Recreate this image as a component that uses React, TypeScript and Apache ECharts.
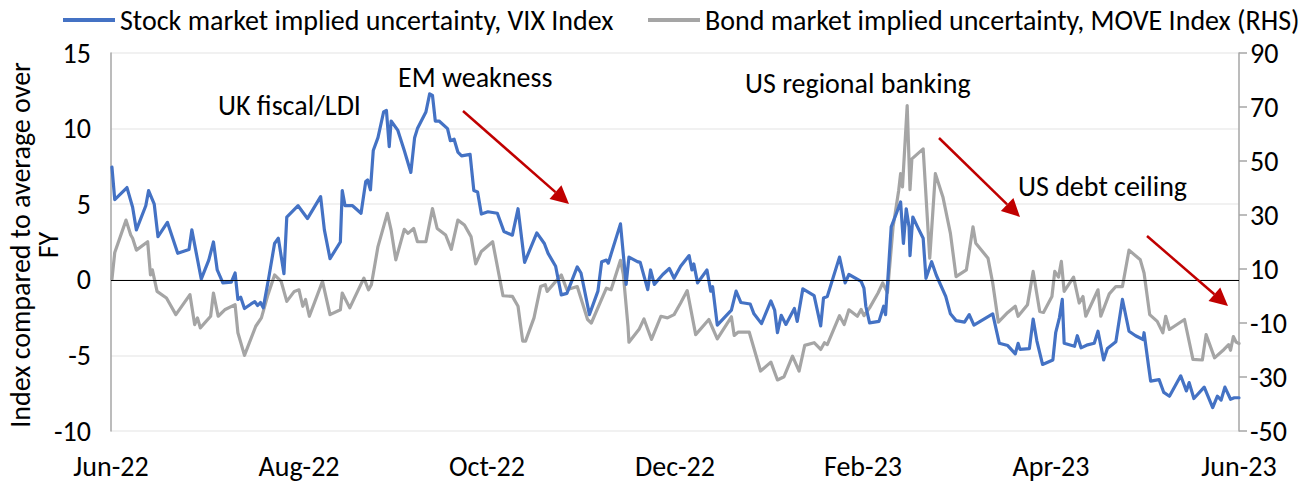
import React, { useEffect, useRef } from "react";
import * as echarts from "echarts";

const monthTicks = ["Jun-22", "Aug-22", "Oct-22", "Dec-22", "Feb-23", "Apr-23", "Jun-23"];

const vixName = "Stock market implied uncertainty, VIX Index";
const moveName = "Bond market implied uncertainty, MOVE Index (RHS)";

// time in months since start of Jun-22
const vixT = [0.01,0.04,0.17,0.23,0.27,0.37,0.40,0.46,0.50,0.60,0.71,0.83,0.86,0.96,1.04,1.09,1.13,1.19,1.28,1.32,1.35,1.38,1.42,1.49,1.53,1.56,1.59,1.62,1.68,1.74,1.78,1.84,1.87,1.99,2.09,2.23,2.27,2.33,2.44,2.46,2.49,2.57,2.66,2.71,2.73,2.76,2.79,2.84,2.90,2.93,2.96,2.98,3.05,3.12,3.19,3.23,3.26,3.35,3.39,3.42,3.45,3.49,3.58,3.61,3.65,3.69,3.73,3.82,3.86,3.90,3.94,4.01,4.11,4.18,4.27,4.33,4.40,4.53,4.61,4.65,4.73,4.79,4.85,4.96,5.00,5.09,5.18,5.22,5.27,5.29,5.42,5.48,5.51,5.60,5.63,5.71,5.74,5.78,5.87,5.94,5.99,6.06,6.15,6.18,6.20,6.24,6.34,6.38,6.40,6.45,6.60,6.65,6.70,6.80,6.84,6.92,7.02,7.06,7.09,7.13,7.18,7.27,7.30,7.36,7.48,7.55,7.58,7.62,7.75,7.81,7.85,7.98,8.01,8.03,8.07,8.17,8.22,8.24,8.30,8.35,8.40,8.43,8.46,8.49,8.50,8.53,8.58,8.64,8.67,8.73,8.78,8.88,8.93,8.99,9.08,9.13,9.18,9.38,9.45,9.54,9.62,9.65,9.67,9.77,9.81,9.85,9.91,10.02,10.05,10.09,10.12,10.14,10.25,10.28,10.32,10.39,10.46,10.50,10.56,10.60,10.69,10.76,10.83,10.90,10.98,10.99,11.04,11.06,11.15,11.20,11.26,11.38,11.44,11.47,11.52,11.63,11.72,11.77,11.81,11.85,11.91,11.95,12.00];
const vixV = [7.45,5.3,6.1,4.8,3.3,4.9,5.9,5.0,2.85,3.8,1.75,2.0,3.3,0.05,1.3,2.5,0.65,-0.2,-0.15,0.45,-1.3,-1.15,-1.9,-1.6,-1.45,-1.7,-1.5,-1.85,0.2,2.4,2.75,0.4,4.15,4.9,4.05,5.5,3.3,1.4,2.5,5.9,4.9,4.9,4.4,6.5,6.6,5.95,8.55,9.4,11.1,11.2,8.8,10.5,9.9,8.55,7.1,9.4,10.0,11.1,12.3,12.2,10.5,10.5,10.0,9.2,9.3,8.45,8.2,8.3,5.9,5.8,4.35,4.5,4.4,3.2,2.95,4.7,1.15,3.1,2.4,1.75,0.9,-1.0,-0.9,0.85,0.45,-2.3,-0.75,1.2,1.3,1.1,3.7,-0.3,1.5,1.2,1.15,-0.65,0.65,-0.3,0.35,0.75,0.1,0.9,1.6,0.65,1.05,-0.2,0.65,-0.75,-0.45,-3.0,-2.0,-0.75,-1.5,-1.6,-2.25,-2.9,-1.4,-2.0,-3.5,-2.35,-2.95,-1.9,-2.75,-0.6,-1.05,-3.05,-1.2,-1.1,1.5,-0.2,0.35,-0.1,-0.55,-1.75,-2.85,-2.75,-1.75,-2.3,3.5,4.3,5.15,2.4,4.7,3.5,1.6,4.15,3.5,2.75,0.1,1.2,0.3,-1.1,-2.25,-2.7,-2.8,-2.3,-3.0,-2.25,-4.2,-4.35,-4.9,-4.2,-4.6,-4.55,-2.6,-4.05,-5.6,-5.3,-3.5,-2.5,-1.3,-4.2,-4.4,-3.7,-4.5,-4.3,-4.2,-3.4,-5.3,-4.55,-4.1,-1.3,-3.4,-3.7,-3.95,-3.5,-5.8,-6.7,-6.6,-7.45,-7.7,-6.35,-7.35,-6.8,-7.85,-7.1,-8.45,-7.7,-7.95,-7.1,-7.9,-7.8,-7.8];

const moveT = [0.01,0.04,0.16,0.21,0.23,0.27,0.39,0.42,0.44,0.49,0.59,0.69,0.84,0.89,0.92,0.95,1.06,1.09,1.14,1.21,1.32,1.35,1.42,1.54,1.60,1.67,1.74,1.81,1.87,1.95,2.00,2.04,2.07,2.11,2.25,2.33,2.44,2.46,2.54,2.69,2.74,2.77,2.84,2.94,2.98,3.03,3.12,3.16,3.22,3.26,3.35,3.42,3.47,3.56,3.62,3.69,3.76,3.83,3.88,3.94,4.06,4.17,4.27,4.33,4.38,4.41,4.50,4.57,4.62,4.64,4.79,4.85,4.96,5.07,5.11,5.27,5.32,5.42,5.45,5.50,5.51,5.62,5.67,5.75,5.85,5.92,5.99,6.06,6.13,6.22,6.36,6.45,6.60,6.63,6.67,6.79,6.91,7.02,7.09,7.16,7.25,7.32,7.38,7.48,7.55,7.59,7.62,7.75,7.80,7.85,7.94,7.98,8.01,8.07,8.16,8.21,8.26,8.32,8.38,8.40,8.42,8.47,8.50,8.52,8.64,8.71,8.77,8.85,8.93,8.99,9.10,9.17,9.20,9.33,9.38,9.44,9.54,9.62,9.65,9.75,9.81,9.88,9.92,10.01,10.04,10.08,10.11,10.14,10.24,10.30,10.34,10.37,10.50,10.53,10.62,10.69,10.76,10.83,10.95,10.99,11.05,11.13,11.19,11.22,11.26,11.42,11.45,11.51,11.61,11.65,11.74,11.84,11.89,11.91,11.94,11.97,12.00];
const moveV = [6.2,16.1,28.1,22.6,21.4,17.0,20.1,7.8,9.7,1.7,-0.75,-6.9,0.5,-10.6,-8.1,-11.8,-7.5,1.1,-7.5,-5.1,-3.2,-13.6,-22.0,-11.2,-8.1,0.5,7.8,5.4,-2.0,1.7,2.3,-3.8,-1.3,-7.5,5.4,-6.9,-5.1,1.1,-4.4,6.6,2.3,4.2,18.3,30.6,24.4,13.4,24.7,23.2,25.0,20.1,20.1,32.4,25.0,22.6,17.3,28.1,26.3,22.0,11.9,16.5,20.1,0.1,-0.15,-3.8,-16.7,-16.7,-8.1,3.5,4.2,1.7,7.8,2.3,3.5,-8.7,-10.0,2.9,2.3,13.2,8.1,-11.2,-17.1,-12.2,-8.5,-16.1,-7.5,-8.1,-6.9,-2.6,2.0,-14.3,-8.7,-15.9,-7.7,-14.6,-13.4,-13.4,-27.8,-24.5,-31.1,-29.9,-22.3,-27.8,-18.3,-17.3,-19.8,-17.3,-18.0,-7.3,-10.6,-5.1,-7.5,-5.0,-7.3,-4.4,1.1,4.8,1.3,25.6,39.2,45.3,40.4,70.5,39.4,50.8,54.5,14.0,45.3,36.7,23.2,7.2,9.7,25.6,19.5,14.0,4.8,-9.7,-6.1,-3.8,-7.5,-3.2,9.1,-5.7,-6.1,-0.2,9.1,7.0,12.8,1.7,7.0,-2.6,-0.2,-7.5,2.3,-7.5,0.8,3.5,3.5,17.0,13.4,8.5,-6.9,-9.4,-13.6,-7.5,-12.4,-8.7,-13.6,-23.5,-23.7,-14.3,-22.9,-19.8,-18.0,-20.1,-15.0,-17.1,-17.6];

const annotations = [
  { text: "UK fiscal/LDI", x: 218, y: 105 },
  { text: "EM weakness", x: 398, y: 77 },
  { text: "US regional banking", x: 745, y: 83 },
  { text: "US debt ceiling", x: 1018, y: 186 },
];

const arrows = [
  { x1: 463, y1: 111, x2: 569, y2: 204 },
  { x1: 939, y1: 138, x2: 1020, y2: 217 },
  { x1: 1147, y1: 236, x2: 1228, y2: 306 },
];

const FONT = "Calibri, Carlito, Lato, sans-serif";
const FS = 28;

function arrowGraphics() {
  const out: any[] = [];
  arrows.forEach((a) => {
    const dx = a.x2 - a.x1;
    const dy = a.y2 - a.y1;
    const len = Math.sqrt(dx * dx + dy * dy);
    const ux = dx / len;
    const uy = dy / len;
    const headLen = 18;
    const headW = 9;
    const bx = a.x2 - ux * headLen;
    const by = a.y2 - uy * headLen;
    out.push({
      type: "line",
      shape: { x1: a.x1, y1: a.y1, x2: bx, y2: by },
      style: { stroke: "#C00000", lineWidth: 2.5 },
      z: 100,
    });
    out.push({
      type: "polygon",
      shape: {
        points: [
          [a.x2, a.y2],
          [bx - uy * headW, by + ux * headW],
          [bx + uy * headW, by - ux * headW],
        ],
      },
      style: { fill: "#C00000" },
      z: 100,
    });
  });
  return out;
}

export default function App() {
  const ref = useRef<HTMLDivElement>(null);
  useEffect(() => {
    document.body.style.margin = "0";
    if (!ref.current) return;
    const chart = echarts.init(ref.current, undefined, { renderer: "svg" });
    const legendBase = {
      icon: "rect",
      itemWidth: 52,
      itemHeight: 4,
      top: 1,
      textStyle: { fontSize: FS, color: "#000", fontFamily: FONT },
    };
    chart.setOption({
      animation: false,
      textStyle: { fontFamily: FONT },
      grid: { left: 111, right: 77, top: 53, bottom: 55 },
      legend: [
        { ...legendBase, data: [vixName], left: 58 },
        { ...legendBase, data: [moveName], left: 643 },
      ],
      xAxis: {
        type: "value",
        min: 0,
        max: 12,
        interval: 2,
        axisLine: { show: false },
        axisTick: { show: false },
        splitLine: { show: false },
        axisLabel: {
          fontSize: FS,
          color: "#000",
          fontFamily: FONT,
          margin: 21,
          formatter: (v: number) => monthTicks[Math.round(v / 2)] ?? "",
        },
      },
      yAxis: [
        {
          type: "value",
          min: -10,
          max: 15,
          interval: 5,
          axisLine: { show: true, lineStyle: { color: "#a6a6a6", width: 1.5 } },
          axisTick: { show: false },
          splitLine: { show: true, lineStyle: { color: "#ececec", width: 1.5 } },
          axisLabel: { fontSize: FS, color: "#000", fontFamily: FONT, margin: 20 },
        },
        {
          type: "value",
          position: "right",
          min: -50,
          max: 90,
          interval: 20,
          axisLine: { show: true, lineStyle: { color: "#a6a6a6", width: 1.5 } },
          axisTick: { show: true, length: 8, lineStyle: { color: "#a6a6a6", width: 1.5 } },
          splitLine: { show: false },
          axisLabel: { fontSize: FS, color: "#000", fontFamily: FONT, margin: 11 },
        },
      ],
      series: [
        {
          name: "zero",
          type: "line",
          data: [],
          z: 1,
          markLine: {
            silent: true,
            symbol: "none",
            label: { show: false },
            lineStyle: { color: "#000", width: 1.2, type: "solid" },
            data: [{ yAxis: 0 }],
          },
        },
        {
          name: vixName,
          type: "line",
          yAxisIndex: 0,
          data: vixT.map((t, i) => [t, vixV[i]]),
          showSymbol: false,
          lineStyle: { color: "#4472C4", width: 3.2, join: "round", cap: "round" },
          itemStyle: { color: "#4472C4" },
          z: 3,
        },
        {
          name: moveName,
          type: "line",
          yAxisIndex: 1,
          data: moveT.map((t, i) => [t, moveV[i]]),
          showSymbol: false,
          lineStyle: { color: "#A5A5A5", width: 3.2, join: "round", cap: "round" },
          itemStyle: { color: "#A5A5A5" },
          z: 2,
        },
      ],
      graphic: [
        {
          type: "text",
          x: 34,
          y: 245,
          rotation: Math.PI / 2,
          style: {
            text: "Index compared to average over\nFY",
            fontSize: FS,
            fontFamily: FONT,
            fill: "#000",
            align: "center",
            verticalAlign: "middle",
            lineHeight: 28,
          },
        },
        ...annotations.map((a) => ({
          type: "text",
          x: a.x,
          y: a.y,
          style: {
            text: a.text,
            fontSize: FS,
            fontFamily: FONT,
            fill: "#000",
            align: "left",
            verticalAlign: "middle",
          },
          z: 100,
        })),
        ...arrowGraphics(),
      ],
    });
    return () => chart.dispose();
  }, []);
  return <div ref={ref} style={{ width: 1316, height: 486 }} />;
}
